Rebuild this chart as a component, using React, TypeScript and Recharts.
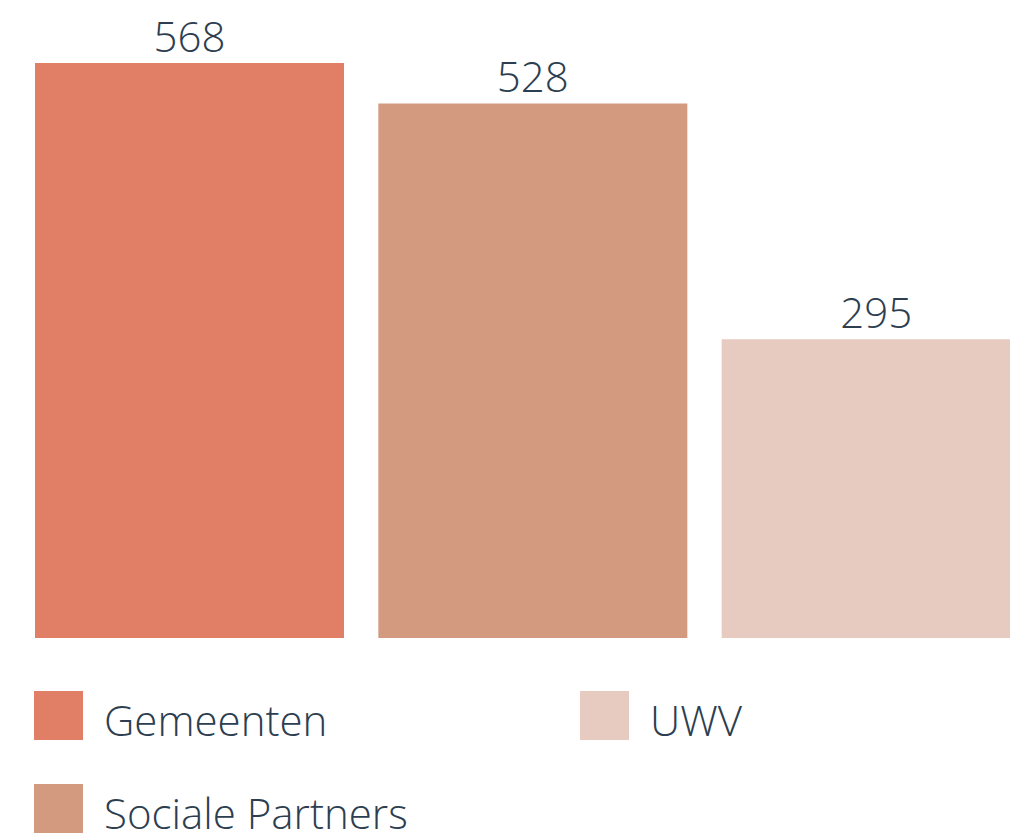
import { Bar, BarChart, Cell, LabelList, XAxis, YAxis } from 'recharts';

const categories = ['Gemeenten', 'Sociale Partners', 'UWV'];
const values = [568, 528, 295];
const colors = ['#E07F66', '#D49A80', '#E8CBC0'];

const textColor = '#2C3E50';
const font = '"Open Sans", "Noto Sans", sans-serif';

const data = categories.map((name, i) => ({ name, value: values[i] }));

const ChartLegend = () => (
  <div
    style={{
      position: 'absolute',
      left: 34,
      top: 691,
      display: 'grid',
      gridAutoFlow: 'column',
      gridTemplateRows: 'repeat(2, 93px)',
      gridTemplateColumns: '546px 400px',
      fontFamily: font,
      fontWeight: 300,
      fontSize: 42,
      color: textColor,
    }}
  >
    {categories.map((name, i) => (
      <div key={name} style={{ display: 'flex', alignItems: 'flex-start', height: 93 }}>
        <div style={{ width: 49, height: 49, background: colors[i], flexShrink: 0 }} />
        <span style={{ marginLeft: 21, lineHeight: '57px', whiteSpace: 'nowrap' }}>{name}</span>
      </div>
    ))}
  </div>
);

export default function App() {
  return (
    <div
      style={{
        position: 'fixed',
        left: 0,
        top: 0,
        width: 1010,
        height: 833,
        overflow: 'hidden',
        background: '#fff',
      }}
    >
      <div style={{ position: 'absolute', left: 8, top: 8 }}>
        <BarChart
          width={1040}
          height={640}
          data={data}
          margin={{ top: 55, right: 0, bottom: 10, left: 10 }}
          barCategoryGap={17}
        >
          <XAxis dataKey="name" hide />
          <YAxis hide domain={[0, 568]} />
          <Bar dataKey="value" isAnimationActive={false}>
            {data.map((entry, index) => (
              <Cell key={`cell-${index}`} fill={colors[index]} />
            ))}
            <LabelList
              dataKey="value"
              position="top"
              offset={11}
              fill={textColor}
              style={{ fontFamily: font, fontWeight: 300, fontSize: 42 }}
            />
          </Bar>
        </BarChart>
      </div>
      <ChartLegend />
    </div>
  );
}
